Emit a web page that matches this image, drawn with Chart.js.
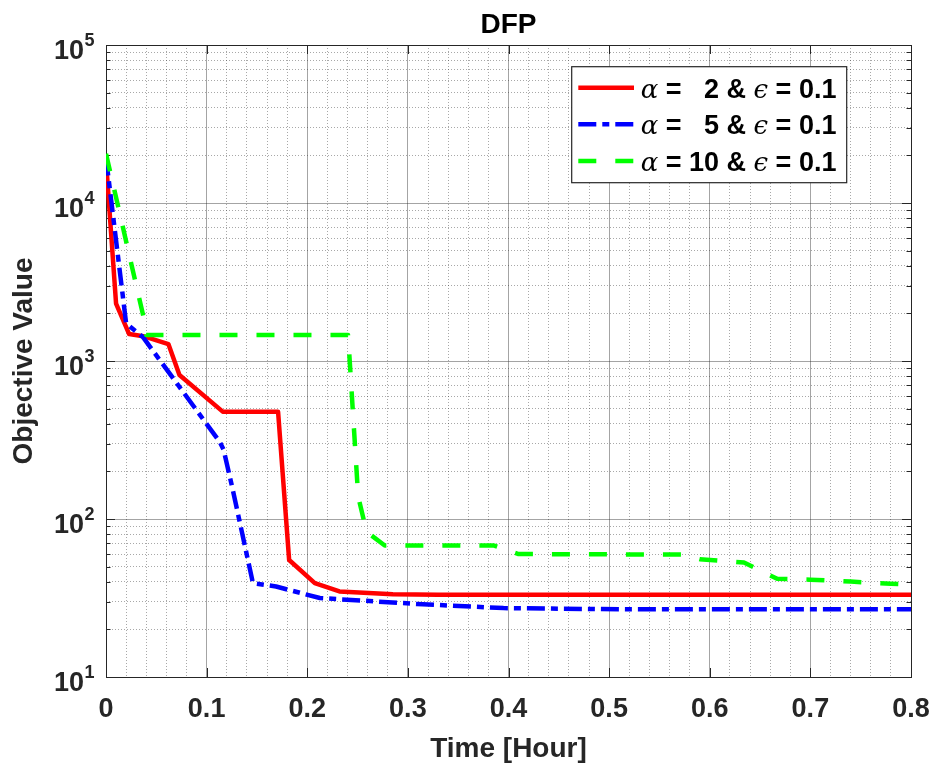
<!DOCTYPE html>
<html>
<head>
<meta charset="utf-8">
<title>DFP</title>
<script src="https://cdn.jsdelivr.net/npm/chart.js@4.4.1/dist/chart.umd.min.js"></script>
<style>
  html, body { margin: 0; padding: 0; background: #fff; }
</style>
</head>
<body>
<canvas id="dfpChart" width="934" height="769"></canvas>
<script>
// values (time in hours, objective value)
const redTime = [0, 0.010, 0.023, 0.037, 0.062, 0.073, 0.116, 0.171, 0.182, 0.2075, 0.232, 0.285, 0.33, 0.8];
const redValue = [18500, 2310, 1480, 1435, 1280, 815, 478, 478, 55, 39.3, 34.8, 33.4, 33.1, 33.1];

const blueTime = [0, 0.020, 0.0366, 0.113, 0.117, 0.126, 0.146, 0.169, 0.2125, 0.309, 0.395, 0.518, 0.8];
const blueValue = [19400, 1730, 1420, 308, 273, 153, 39.3, 37.4, 31.6, 29, 27.3, 26.8, 26.8];

const greenTime = [0, 0.038, 0.04, 0.2406, 0.2506, 0.259, 0.277, 0.385, 0.41, 0.573, 0.59, 0.634, 0.667, 0.70, 0.74, 0.78, 0.8];
const greenValue = [20500, 1815, 1460, 1460, 139, 83, 68, 68, 60, 59.5, 55.7, 53, 41.8, 41.3, 40.2, 38.9, 38.5];

const seriesLabels = ['α =   2 & ϵ = 0.1', 'α =   5 & ϵ = 0.1', 'α = 10 & ϵ = 0.1'];
const xTicks = [0, 0.1, 0.2, 0.3, 0.4, 0.5, 0.6, 0.7, 0.8];
const yTicks = [10, 100, 1000, 10000, 100000];

const SANS = 'Arial, "Liberation Sans", Helvetica, sans-serif';
const AXIS_GREY = '#262626';

function toPoints(t, v) {
    return t.map((x, i) => ({ x: x, y: v[i] }));
}

// major ticks from the arrays, dotted minor grid in between
function xMinorTicks(scale) {
    const ticks = [];
    xTicks.forEach((v, i) => {
        ticks.push({ value: v, major: true });
        if (i < xTicks.length - 1) {
            const step = (xTicks[i + 1] - v) / 5;
            for (let k = 1; k < 5; k++) ticks.push({ value: v + k * step, major: false });
        }
    });
    scale.ticks = ticks;
}

function yMinorTicks(scale) {
    const ticks = [];
    yTicks.forEach((v, i) => {
        ticks.push({ value: v, major: true });
        if (i < yTicks.length - 1) {
            for (let k = 2; k < 10; k++) ticks.push({ value: v * k, major: false });
        }
    });
    scale.ticks = ticks;
}

const gridColor = (c) => (c.tick && c.tick.major ? 'rgba(38,38,38,0.42)' : 'rgba(38,38,38,0.4)');
const gridDash = (c) => (c.tick && c.tick.major ? [] : [1, 2]);

// box round the axes plus the inward tick marks
const axesBox = {
    id: 'axesBox',
    beforeDatasetsDraw(chart) {
        const { ctx, chartArea: a } = chart;
        const xs = chart.scales.x;
        const ys = chart.scales.y;
        ctx.save();
        ctx.strokeStyle = AXIS_GREY;
        ctx.lineWidth = 1;
        ctx.setLineDash([]);
        ctx.beginPath();
        xs.ticks.forEach((t) => {
            if (!t.major) return;
            const x = Math.round(xs.getPixelForValue(t.value)) + 0.5;
            ctx.moveTo(x, a.bottom); ctx.lineTo(x, a.bottom - 9);
            ctx.moveTo(x, a.top); ctx.lineTo(x, a.top + 9);
        });
        ys.ticks.forEach((t) => {
            const y = Math.round(ys.getPixelForValue(t.value)) + 0.5;
            const len = t.major ? 9 : 4.5;
            ctx.moveTo(a.left, y); ctx.lineTo(a.left + len, y);
            ctx.moveTo(a.right, y); ctx.lineTo(a.right - len, y);
        });
        ctx.stroke();
        ctx.strokeRect(Math.round(a.left) + 0.5, Math.round(a.top) + 0.5,
            Math.round(a.right - a.left), Math.round(a.bottom - a.top));
        ctx.restore();
    },
    afterDraw(chart) {
        // y labels as 10 with a raised exponent
        const { ctx, chartArea: a } = chart;
        const ys = chart.scales.y;
        ctx.save();
        ctx.fillStyle = AXIS_GREY;
        ctx.textAlign = 'right';
        ctx.textBaseline = 'alphabetic';
        yTicks.forEach((v) => {
            const y = ys.getPixelForValue(v);
            const exp = String(Math.round(Math.log10(v)));
            const right = a.left - 11.5;
            ctx.font = 'bold 18px ' + SANS;
            const ew = ctx.measureText(exp).width;
            ctx.fillText(exp, right, y + 1);
            ctx.font = 'bold 27px ' + SANS;
            ctx.fillText('10', right - ew - 0.5, y + 14);
        });
        ctx.restore();
    },
};

// legend box in the upper right, greek letters in italic serif
const legendBox = {
    id: 'legendBox',
    afterDraw(chart) {
        const { ctx, chartArea: a } = chart;
        const box = { left: a.right - 339.3, top: a.top + 21.7, width: 275, height: 116 };
        ctx.save();
        ctx.fillStyle = '#fff';
        ctx.fillRect(box.left, box.top, box.width, box.height);
        ctx.strokeStyle = AXIS_GREY;
        ctx.lineWidth = 1.2;
        ctx.setLineDash([]);
        ctx.strokeRect(box.left, box.top, box.width, box.height);

        chart.data.datasets.forEach((ds, i) => {
            const rowY = box.top + 21 + i * 36.6;
            ctx.strokeStyle = ds.borderColor;
            ctx.lineWidth = ds.borderWidth;
            ctx.setLineDash(ds.borderDash);
            ctx.beginPath();
            ctx.moveTo(box.left + 6.6, rowY);
            ctx.lineTo(box.left + 62.3, rowY);
            ctx.stroke();

            ctx.setLineDash([]);
            ctx.fillStyle = '#000';
            ctx.textAlign = 'left';
            ctx.textBaseline = 'alphabetic';
            let x = box.left + 69;
            for (const ch of ds.label) {
                const greek = ch === 'α' || ch === 'ϵ';
                ctx.font = greek ? 'italic 26px "DejaVu Serif", "Liberation Serif", serif' : 'bold 27px ' + SANS;
                ctx.fillText(ch, x, rowY + 10);
                x += ctx.measureText(ch).width;
            }
        });
        ctx.restore();
    },
};

const ctx = document.getElementById('dfpChart').getContext('2d');
const dfpChart = new Chart(ctx, {
    type: 'line',
    data: {
        datasets: [
            {
                label: seriesLabels[0],
                data: toPoints(redTime, redValue),
                borderColor: '#ff0000',
                borderWidth: 4.5,
                borderDash: [],
                order: 2,
            },
            {
                label: seriesLabels[1],
                data: toPoints(blueTime, blueValue),
                borderColor: '#0000ff',
                borderWidth: 4.5,
                borderDash: [18, 6, 7, 6],
                order: 1,
            },
            {
                label: seriesLabels[2],
                data: toPoints(greenTime, greenValue),
                borderColor: '#00ff00',
                borderWidth: 4.5,
                borderDash: [18, 19],
                order: 0,
            },
        ],
    },
    options: {
        responsive: false,
        animation: false,
        elements: {
            point: { radius: 0, hoverRadius: 0 },
            line: { tension: 0, fill: false, borderJoinStyle: 'round', borderCapStyle: 'butt' },
        },
        layout: { padding: 0 },
        plugins: {
            legend: { display: false },
            tooltip: { enabled: false },
            title: {
                display: true,
                fullSize: false,
                text: 'DFP',
                color: '#000',
                font: { family: SANS, size: 28, weight: 'bold', lineHeight: 1.2 },
                padding: { top: 8.2, bottom: 3.2 },
            },
        },
        scales: {
            x: {
                type: 'linear',
                min: 0,
                max: 0.8,
                afterBuildTicks: xMinorTicks,
                afterFit: (s) => {
                    s.height = 92;
                    s.paddingLeft = 0;
                    s.paddingRight = 23;
                },
                ticks: {
                    autoSkip: false,
                    maxRotation: 0,
                    padding: 16.5,
                    color: AXIS_GREY,
                    font: { family: SANS, size: 27, weight: 'bold' },
                    callback: (v, i, ticks) => (ticks[i].major ? String(v) : ''),
                },
                grid: { drawTicks: false, lineWidth: 1, color: gridColor },
                border: { display: false, dash: gridDash },
                title: {
                    display: true,
                    text: 'Time [Hour]',
                    color: AXIS_GREY,
                    font: { family: SANS, size: 28, weight: 'bold', lineHeight: 1.2 },
                    padding: { top: 0, bottom: 3.4 },
                },
            },
            y: {
                type: 'logarithmic',
                min: 10,
                max: 100000,
                afterBuildTicks: yMinorTicks,
                afterFit: (s) => {
                    s.width = 106;
                    s.paddingTop = 0;
                    s.paddingBottom = 0;
                },
                ticks: { display: false, autoSkip: false },
                grid: { drawTicks: false, lineWidth: 1, color: gridColor },
                border: { display: false, dash: gridDash },
                title: {
                    display: true,
                    text: 'Objective Value',
                    color: AXIS_GREY,
                    font: { family: SANS, size: 28, weight: 'bold', lineHeight: 1.2 },
                    padding: { top: 7.8, bottom: 0 },
                },
            },
        },
    },
    plugins: [axesBox, legendBox],
});
</script>
</body>
</html>
